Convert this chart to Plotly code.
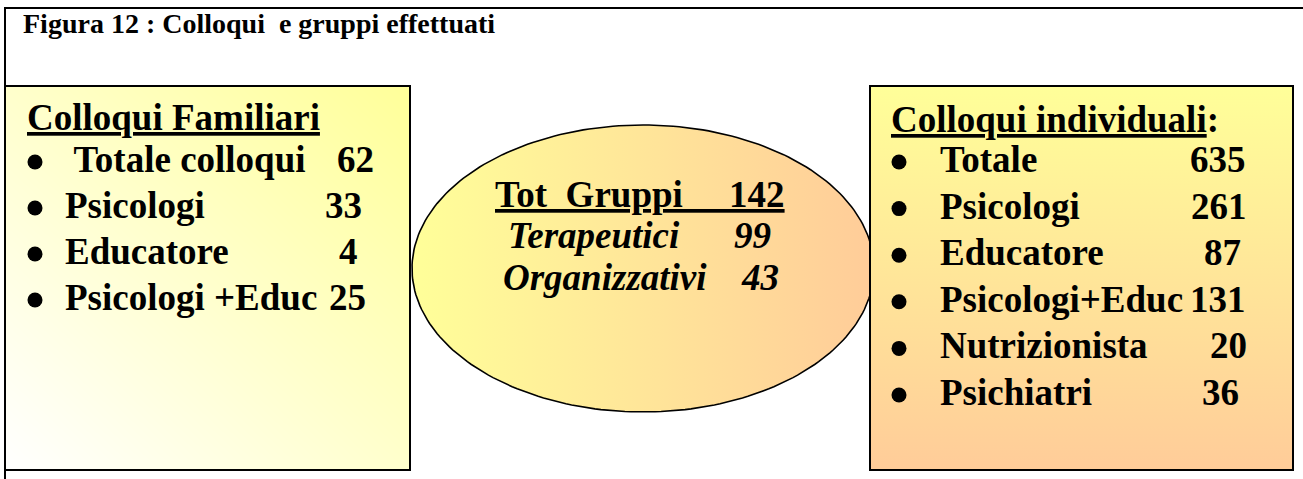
import numpy as np
import plotly.graph_objects as go

# --- content -------------------------------------------------------------
title_text = "Figura 12 : Colloqui  e gruppi effettuati"

fam_title = "Colloqui Familiari"
fam_labels = [" Totale colloqui", "Psicologi", "Educatore", "Psicologi +Educ"]
fam_values = [62, 33, 4, 25]

ind_title = "Colloqui individuali"
ind_labels = ["Totale", "Psicologi", "Educatore", "Psicologi+Educ", "Nutrizionista", "Psichiatri"]
ind_values = [635, 261, 87, 131, 20, 36]

grp_title = "Tot  Gruppi"
grp_total = 142
grp_labels = ["Terapeutici", "Organizzativi"]
grp_values = [99, 43]

# --- layout helpers (pixel space, y grows downward) ----------------------
W, H = 1303, 479
FONT = "Liberation Serif"
SIZE = 37
YELLOW = "#FFFF99"
PEACH = "#FFCC99"

left_box = (5, 86, 410, 470)
right_box = (870, 86, 1293, 470)
ell_c, ell_r = (643, 268.5), (231, 143.5)

fam_num_right = [375, 363, 359, 367]
ind_num_right = [1247, 1248, 1242, 1247, 1248, 1240]
grp_left = [507, 502]
grp_num_right = [772, 780]

annotations = []


def txt(x, baseline, s, size=SIZE, anchor="left", italic=False):
    s = "<b>%s</b>" % s
    if italic:
        s = "<i>%s</i>" % s
    annotations.append(dict(
        x=x, y=baseline - 0.34 * size, xref="x", yref="y",
        text=s, showarrow=False, xanchor=anchor, yanchor="middle",
        borderpad=0, font=dict(family=FONT, size=size, color="black")))


fig = go.Figure()

# left box: diagonal gradient white -> yellow
x0, y0, x1, y1 = left_box
fig.add_trace(go.Contour(
    x=[x0, x1], y=[y0, y1], z=[[0.5, 1.0], [0.0, 0.5]],
    colorscale=[[0, "#FFFFFF"], [1, YELLOW]], zmin=0, zmax=1,
    contours=dict(coloring="heatmap", showlines=False),
    line=dict(width=0), showscale=False, hoverinfo="skip"))

# ellipse: horizontal gradient yellow -> peach
t = np.linspace(0, 2 * np.pi, 241)
fig.add_trace(go.Scatter(
    x=ell_c[0] + ell_r[0] * np.cos(t), y=ell_c[1] + ell_r[1] * np.sin(t),
    mode="lines", fill="toself", line=dict(color="black", width=1.6),
    fillgradient=dict(type="horizontal", colorscale=[[0, YELLOW], [1, PEACH]]),
    hoverinfo="skip"))

# right box: vertical gradient yellow (top) -> peach (bottom)
x0, y0, x1, y1 = right_box
fig.add_trace(go.Scatter(
    x=[x0, x1, x1, x0, x0], y=[y0, y0, y1, y1, y0],
    mode="lines", fill="toself", line=dict(width=0),
    fillgradient=dict(type="vertical", colorscale=[[0, YELLOW], [1, PEACH]],
                      start=y0, stop=y1),
    hoverinfo="skip"))

shapes = [
    # outer frame: only the top and left edges fall inside the window
    dict(type="line", x0=4, y0=8, x1=W, y1=8, line=dict(color="black", width=2)),
    dict(type="line", x0=5, y0=8, x1=5, y1=H, line=dict(color="black", width=2)),
    dict(type="rect", x0=left_box[0], y0=left_box[1], x1=left_box[2], y1=left_box[3],
         line=dict(color="black", width=2)),
    dict(type="rect", x0=right_box[0], y0=right_box[1], x1=right_box[2], y1=right_box[3],
         line=dict(color="black", width=2)),
]

bullet_x, bullet_y = [], []

# title
txt(22, 33, title_text, size=28)

# left list
txt(26, 130, "<u>%s</u>" % fam_title)
for i, (lab, val) in enumerate(zip(fam_labels, fam_values)):
    base = 172 + 46 * i
    bullet_x.append(35)
    bullet_y.append(base - 10)
    txt(64, base, lab)
    txt(fam_num_right[i], base, str(val), anchor="right")

# right list
txt(890, 132, "<u>%s</u>:" % ind_title)
for i, (lab, val) in enumerate(zip(ind_labels, ind_values)):
    base = 172 + 46.6 * i
    bullet_x.append(899)
    bullet_y.append(base - 10)
    txt(939, base, lab)
    txt(ind_num_right[i], base, str(val), anchor="right")

# ellipse text
txt(494, 207, "<u>%s     %d</u>" % (grp_title, grp_total))
for i, (lab, val) in enumerate(zip(grp_labels, grp_values)):
    base = 248 + 42 * i
    txt(grp_left[i], base, lab, italic=True)
    txt(grp_num_right[i], base, str(val), anchor="right", italic=True)

# list bullets
fig.add_trace(go.Scatter(
    x=bullet_x, y=bullet_y, mode="markers",
    marker=dict(symbol="circle", size=15, color="black", line=dict(width=0)),
    hoverinfo="skip"))

fig.update_layout(
    width=W, height=H,
    margin=dict(l=0, r=0, t=0, b=0),
    paper_bgcolor="white", plot_bgcolor="white", showlegend=False,
    xaxis=dict(range=[0, W], visible=False, fixedrange=True),
    yaxis=dict(range=[H, 0], visible=False, fixedrange=True),
    shapes=shapes, annotations=annotations,
)

# drop the default page margin so the figure sits at the window origin
fig.write_html("out.html", config={"displayModeBar": False},
               post_script="document.body.style.margin = '0';")
